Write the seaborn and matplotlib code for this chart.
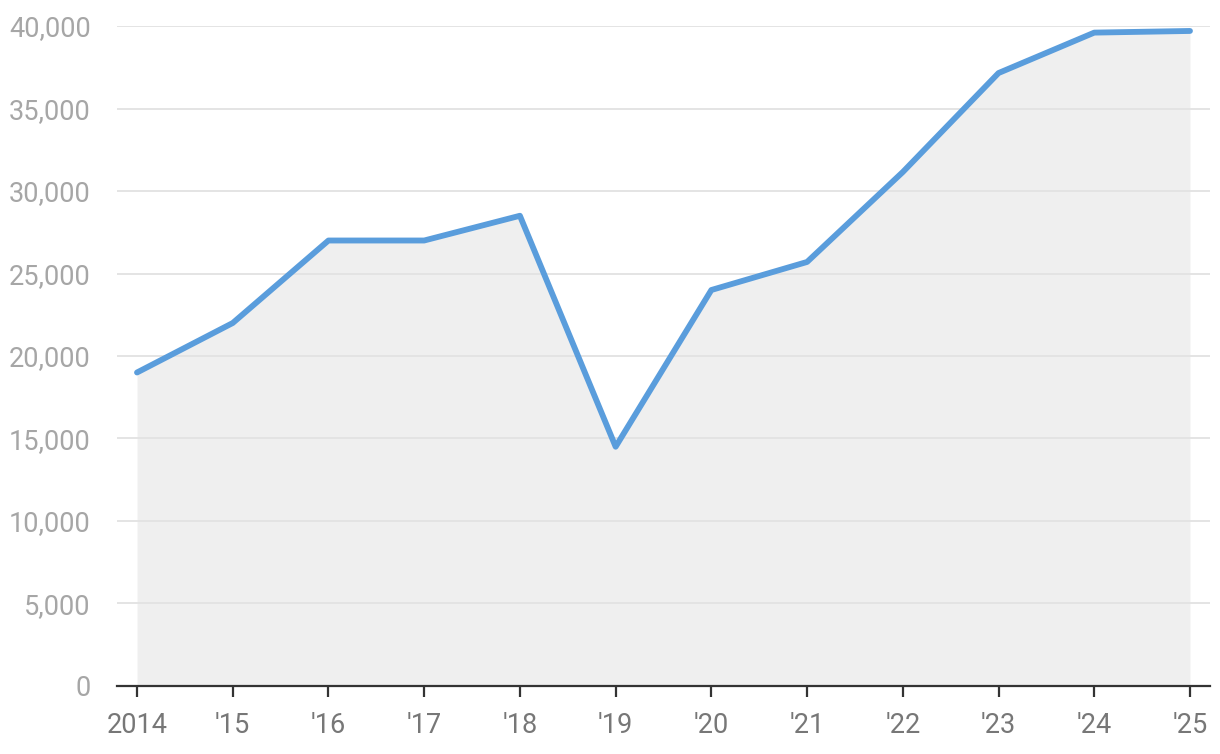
import pandas as pd
import matplotlib.pyplot as plt
import seaborn as sns

# Données
years = [2014, 2015, 2016, 2017, 2018, 2019, 2020, 2021, 2022, 2023, 2024, 2025]
values = [19000, 22000, 27000, 27000, 28500, 14500, 24000, 25700, 31150, 37150, 39600, 39700]
xtick_labels = ["2014", "'15", "'16", "'17", "'18", "'19", "'20", "'21", "'22", "'23", "'24", "'25"]
ytick_values = list(range(0, 40001, 5000))

df = pd.DataFrame({'year': years, 'value': values})

sns.set_theme(style="white")
plt.rcParams['font.family'] = ['Roboto', 'DejaVu Sans']

fig = plt.figure(figsize=(12.2, 7.54), dpi=100)
ax = fig.add_axes([0.0959, 0.0902, 0.8959, 0.8753])

ax.fill_between(df['year'], df['value'], 0, color='#efefef', zorder=1, linewidth=0)
for v in ytick_values[1:]:
    ax.axhline(v, color='#e2e2e2', linewidth=1.3, zorder=2)
sns.lineplot(x='year', y='value', data=df, ax=ax, color='#5a9ddc', linewidth=4.2,
             zorder=3, solid_capstyle='round', solid_joinstyle='round')

ax.set_xlim(2014 - 0.209, 2025 + 0.209)
ax.set_ylim(0, 40000)
ax.set_xticks(years)
ax.set_xticklabels(xtick_labels)
ax.set_yticks(ytick_values)
ax.set_yticklabels([f"{v:,}" for v in ytick_values])
ax.set_xlabel('')
ax.set_ylabel('')

for s in ['top', 'right', 'left']:
    ax.spines[s].set_visible(False)
ax.spines['bottom'].set_color('#333333')
ax.spines['bottom'].set_linewidth(1.6)
ax.spines['bottom'].set_zorder(4)

ax.tick_params(axis='x', bottom=True, length=8, width=1.6, color='#333333',
               labelsize=19.5, labelcolor='#777777', pad=11)
ax.tick_params(axis='y', left=False, labelsize=19.5, labelcolor='#a6a6a6', pad=13)

plt.savefig('out.png', dpi=100)
